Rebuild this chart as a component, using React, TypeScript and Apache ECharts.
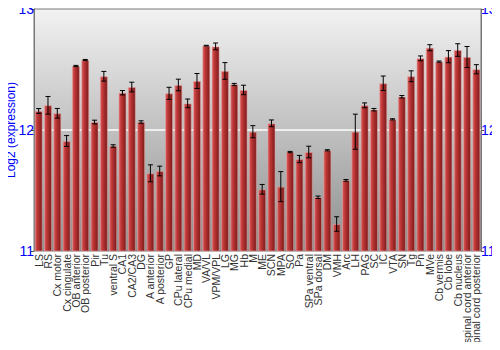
import React, { useEffect, useRef } from "react";
import * as echarts from "echarts";

const categories = [
  "LS", "RS", "Cx motor", "Cx cingulate", "OB anterior", "OB posterior", "Pir", "Tu",
  "ventral S", "CA1", "CA2/CA3", "DG", "A anterior", "A posterior", "GP", "CPu lateral",
  "CPu medial", "MD", "VA/VL", "VPM/VPL", "LG", "MG", "Hb", "M", "ME", "SCN", "MPA", "SO",
  "Pa", "SPa ventral", "SPa dorsal", "DM", "VMH", "Arc", "LH", "PAG", "SC", "IC", "VTA",
  "SN", "Tg", "Pn", "MVe", "Cb vermis", "Cb lobe", "Cb nucleus", "spinal cord anterior",
  "spinal cord posterior",
];

const values = [
  12.157, 12.204, 12.138, 11.909, 12.529, 12.579, 12.066, 12.444,
  11.868, 12.308, 12.355, 12.066, 11.642, 11.661, 12.303, 12.372,
  12.22, 12.405, 12.697, 12.691, 12.488, 12.377, 12.331, 11.986, 11.51, 12.055, 11.532, 11.818,
  11.76, 11.818, 11.444, 11.832, 11.223, 11.584, 11.986, 12.204, 12.168, 12.386, 12.088,
  12.275, 12.444, 12.592, 12.68, 12.565, 12.606, 12.661, 12.603,
  12.502,
];

const errors = [
  0.02, 0.073, 0.04, 0.045, 0.005, 0.004, 0.015, 0.04,
  0.01, 0.018, 0.04, 0.01, 0.07, 0.04, 0.05, 0.048,
  0.036, 0.062, 0.003, 0.028, 0.069, 0.008, 0.039, 0.05, 0.04, 0.028, 0.124, 0.005,
  0.03, 0.048, 0.01, 0.005, 0.06, 0.007, 0.145, 0.02, 0.01, 0.06, 0.005,
  0.01, 0.045, 0.02, 0.025, 0.005, 0.05, 0.052, 0.087,
  0.038,
];

const yTicks = { min: 11, max: 13, interval: 1 };

export default function App() {
  const ref = useRef<HTMLDivElement>(null);
  useEffect(() => {
    if (!ref.current) return;
    const chart = echarts.init(ref.current, null, { renderer: "svg" });
    const errData = values.map((v, i) => [i, v - errors[i], v + errors[i]]);
    const yAxisBase = {
      type: "value",
      min: yTicks.min,
      max: yTicks.max,
      interval: yTicks.interval,
      axisLine: { show: true, lineStyle: { color: "#777" } },
      axisTick: { show: true, length: 3, lineStyle: { color: "#555" } },
      axisLabel: {
        color: "#0000ff",
        fontSize: 14,
        fontFamily: "Liberation Sans, Arial, sans-serif",
        margin: 0,
        hideOverlap: false,
      },
    };
    chart.setOption({
      animation: false,
      grid: {
        left: 34,
        right: 19,
        top: 9,
        bottom: 99,
        containLabel: false,
        outerBoundsMode: "none",
        show: true,
        borderColor: "#777",
        borderWidth: 1,
        backgroundColor: new echarts.graphic.LinearGradient(0, 0, 0, 1, [
          { offset: 0, color: "#f2f2f2" },
          { offset: 1, color: "#8e8e8e" },
        ]),
      },
      xAxis: {
        type: "category",
        data: categories,
        axisLine: { show: false },
        axisTick: { show: false },
        axisLabel: {
          interval: 0,
          rotate: 90,
          fontSize: 10.5,
          color: "#333",
          margin: 3,
          fontFamily: "Liberation Sans, Arial, sans-serif",
        },
      },
      yAxis: [
        {
          ...yAxisBase,
          position: "left",
          name: "Log2 (expression)",
          nameLocation: "middle",
          nameGap: 17,
          nameMoveOverlap: false,
          nameTextStyle: { color: "#0000ff", fontSize: 12, fontFamily: "Liberation Sans, Arial, sans-serif" },
          splitLine: {
            show: true,
            lineStyle: { color: ["rgba(0,0,0,0)", "#ffffff", "rgba(0,0,0,0)"], width: 1.5 },
          },
        },
        {
          ...yAxisBase,
          position: "right",
          splitLine: { show: false },
        },
      ],
      series: [
        {
          type: "bar",
          data: values,
          barWidth: "86%",
          itemStyle: {
            color: new echarts.graphic.LinearGradient(0, 0, 1, 0, [
              { offset: 0, color: "#d65c5c" },
              { offset: 0.35, color: "#bd3535" },
              { offset: 1, color: "#7a1b1b" },
            ]),
            borderColor: "rgba(235,160,160,0.55)",
            borderWidth: 1,
          },
        },
        {
          type: "custom",
          data: errData,
          z: 10,
          renderItem: (params: any, api: any) => {
            const i = api.value(0);
            const lo = api.coord([i, api.value(1)]);
            const hi = api.coord([i, api.value(2)]);
            const hw = 2.5;
            const style = { stroke: "#000", lineWidth: 1 };
            return {
              type: "group",
              children: [
                { type: "line", shape: { x1: lo[0], y1: lo[1], x2: hi[0], y2: hi[1] }, style },
                { type: "line", shape: { x1: lo[0] - hw, y1: lo[1], x2: lo[0] + hw, y2: lo[1] }, style },
                { type: "line", shape: { x1: hi[0] - hw, y1: hi[1], x2: hi[0] + hw, y2: hi[1] }, style },
              ],
            };
          },
        },
      ],
    });
    return () => chart.dispose();
  }, []);
  return <div ref={ref} style={{ width: 500, height: 350, margin: -8 }} />;
}
